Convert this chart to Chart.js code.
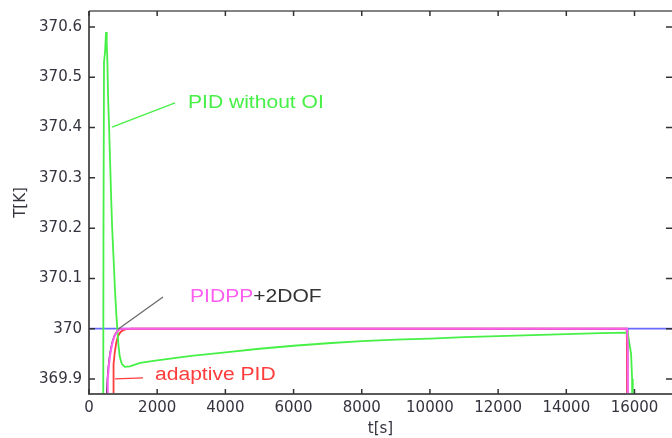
<!DOCTYPE html>
<html>
<head>
<meta charset="utf-8">
<script src="https://cdn.jsdelivr.net/npm/chart.js@4"></script>
<style>
  body { margin: 0; background: #fff; }
</style>
</head>
<body>
<canvas id="chart" width="672" height="438"></canvas>
<script>
// axis ticks
const xTicks = [0, 2000, 4000, 6000, 8000, 10000, 12000, 14000, 16000];
const yTicks = [369.9, 370, 370.1, 370.2, 370.3, 370.4, 370.5, 370.6];
const yLabels = ['369.9', '370', '370.1', '370.2', '370.3', '370.4', '370.5', '370.6'];

// setpoint
const tSet = [0, 17100];
const TSet = [370, 370];

// PID without OI
const tPid = [380, 410, 425, 440, 470, 500, 520, 540, 560, 590, 620, 650, 680, 720, 760, 800, 830, 860, 900, 960, 1050, 1200,
  1500, 2000, 3000, 4000, 5000, 6000, 7000, 8000, 9000, 10000, 11000, 12000, 13000, 14000, 15000, 15800, 15900, 15930, 15950];
const TPid = [369.0, 369.5, 370.2, 370.53, 370.55, 370.59, 370.57, 370.53, 370.46, 370.4, 370.33, 370.26, 370.2, 370.14, 370.08, 370.03, 370.0, 369.97, 369.945, 369.93, 369.924, 369.925,
  369.932, 369.937, 369.946, 369.953, 369.96, 369.966, 369.971, 369.975, 369.978, 369.98, 369.983, 369.985, 369.987, 369.989, 369.991, 369.992, 369.95, 369.9, 369.5];

// adaptive PID
const tAdapt = [690, 705, 710, 730, 760, 800, 850, 920, 1000, 1100, 1250, 15770, 15780, 15800];
const TAdapt = [369.5, 369.87, 369.9, 369.93, 369.955, 369.972, 369.985, 369.993, 369.997, 369.999, 370, 370, 369.966, 369.5];

// PIDPP+2DOF
const t2dof = [490, 520, 540, 570, 600, 640, 690, 750, 820, 900, 1000, 15785, 15790, 15805];
const T2dof = [369.5, 369.87, 369.9, 369.925, 369.943, 369.96, 369.975, 369.987, 369.995, 369.999, 370, 370, 369.948, 369.5];

// PIDPP
const tPidpp = [500, 530, 550, 580, 610, 650, 700, 760, 830, 900, 1000, 15780, 15800, 15810];
const TPidpp = [369.5, 369.87, 369.9, 369.925, 369.943, 369.96, 369.975, 369.987, 369.995, 369.999, 370, 370, 369.97, 369.5];

function pts(ts, vs) {
  return ts.map((t, i) => ({ x: t, y: vs[i] }));
}

const GREEN = 'rgb(70, 240, 70)';
const PINK = 'rgb(255, 95, 240)';
const RED = 'rgb(255, 60, 60)';
const BLUE = 'rgb(105, 105, 255)';
const TEXT = '#34343f';

// annotation leaders and labels, in data units
const notes = [
  { from: [675, 370.401], to: [2523, 370.449], color: GREEN,
    text: [['PID without OI', GREEN]], at: [2904, 370.439] },
  { from: [851, 369.999], to: [2171, 370.063], color: '#6a6a6a',
    text: [['PIDPP', PINK], ['+2DOF', '#333']], at: [2963, 370.053] },
  { from: [763, 369.900], to: [1584, 369.902], color: RED,
    text: [['adaptive PID', RED]], at: [1936, 369.898] },
];

const frame = {
  id: 'frame',
  afterDatasetsDraw(chart) {
    const { ctx, chartArea: a, scales } = chart;
    const x = scales.x, y = scales.y;
    ctx.save();
    // borders
    ctx.strokeStyle = '#5a5a5a';
    ctx.lineWidth = 2;
    ctx.beginPath();
    ctx.moveTo(a.left, a.top);
    ctx.lineTo(a.left, a.bottom);
    ctx.lineTo(a.right, a.bottom);
    ctx.stroke();
    ctx.lineWidth = 1.5;
    ctx.beginPath();
    ctx.moveTo(a.left, a.top);
    ctx.lineTo(a.right, a.top);
    ctx.stroke();
    // inward ticks
    ctx.strokeStyle = '#333';
    ctx.lineWidth = 1.5;
    ctx.beginPath();
    xTicks.forEach(v => {
      const px = x.getPixelForValue(v);
      ctx.moveTo(px, a.bottom); ctx.lineTo(px, a.bottom - 5);
      ctx.moveTo(px, a.top); ctx.lineTo(px, a.top + 5);
    });
    yTicks.forEach(v => {
      const py = y.getPixelForValue(v);
      ctx.moveTo(a.left, py); ctx.lineTo(a.left + 6, py);
      ctx.moveTo(a.right, py); ctx.lineTo(a.right - 6, py);
    });
    ctx.stroke();
    // annotations
    ctx.font = '18px "Liberation Sans", Arial, sans-serif';
    ctx.textBaseline = 'alphabetic';
    notes.forEach(n => {
      ctx.strokeStyle = n.color;
      ctx.lineWidth = 1.3;
      ctx.beginPath();
      ctx.moveTo(x.getPixelForValue(n.from[0]), y.getPixelForValue(n.from[1]));
      ctx.lineTo(x.getPixelForValue(n.to[0]), y.getPixelForValue(n.to[1]));
      ctx.stroke();
      let px = x.getPixelForValue(n.at[0]);
      const py = y.getPixelForValue(n.at[1]);
      n.text.forEach(([s, c]) => {
        ctx.save();
        ctx.translate(px, py);
        ctx.scale(1.17, 1);
        ctx.fillStyle = c;
        ctx.fillText(s, 0, 0);
        ctx.restore();
        px += ctx.measureText(s).width * 1.17;
      });
    });
    ctx.restore();
  }
};

const line = (data, color, order, width) => ({
  data: data,
  borderColor: color,
  borderWidth: width,
  pointRadius: 0,
  tension: 0,
  order: order,
});

new Chart(document.getElementById('chart'), {
  type: 'line',
  data: {
    datasets: [
      line(pts(tPidpp, TPidpp), PINK, 1, 2),
      line(pts(tPid, TPid), GREEN, 2, 1.8),
      line(pts(tAdapt, TAdapt), RED, 3, 1.8),
      line(pts(t2dof, T2dof), '#333', 4, 1.5),
      line(pts(tSet, TSet), BLUE, 5, 1.8),
    ],
  },
  options: {
    responsive: false,
    animation: false,
    layout: { padding: { top: 11, right: 0, left: 0, bottom: 0 } },
    plugins: { legend: { display: false }, tooltip: { enabled: false } },
    scales: {
      x: {
        type: 'linear',
        min: 0,
        max: 17100,
        grid: { display: false, drawTicks: false },
        border: { display: false },
        afterBuildTicks: s => { s.ticks = xTicks.map(v => ({ value: v })); },
        afterFit: s => { s.height = 44; s.paddingLeft = 0; s.paddingRight = 0; },
        ticks: {
          padding: 5,
          maxRotation: 0,
          color: TEXT,
          font: { family: 'DejaVu Sans', size: 15 },
          callback: v => String(v),
        },
        title: {
          display: true,
          text: 't[s]',
          color: TEXT,
          padding: { top: 0, bottom: 0 },
          font: { family: 'DejaVu Sans', size: 15 },
        },
      },
      y: {
        min: 369.87,
        max: 370.632,
        grid: { display: false, drawTicks: false },
        border: { display: false },
        afterBuildTicks: s => { s.ticks = yTicks.map(v => ({ value: v })); },
        afterFit: s => { s.width = 89; s.paddingTop = 0; s.paddingBottom = 0; },
        ticks: {
          padding: 7,
          color: TEXT,
          font: { family: 'DejaVu Sans', size: 15 },
          callback: (v, i) => yLabels[i],
        },
        title: {
          display: true,
          text: 'T[K]',
          color: TEXT,
          padding: { top: 12, bottom: 0 },
          font: { family: 'DejaVu Sans', size: 15 },
        },
      },
    },
  },
  plugins: [frame],
});
</script>
</body>
</html>
